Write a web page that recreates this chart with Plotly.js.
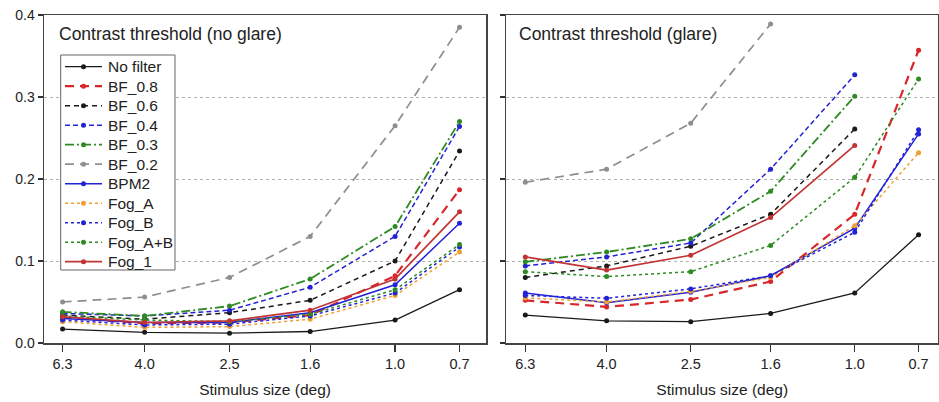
<!DOCTYPE html>
<html>
<head>
<meta charset="utf-8">
<script src="https://cdn.plot.ly/plotly-3.0.1.min.js"></script>
<style>
html,body{margin:0;padding:0;background:#fff;}
#chart{width:939px;height:402px;}
</style>
</head>
<body>
<div id="chart"></div>
<script>
// ---- data ----
const sizes = [6.3, 4.0, 2.5, 1.6, 1.0, 0.7];
const sizeLabels = ['6.3', '4.0', '2.5', '1.6', '1.0', '0.7'];
const seriesNames = ['No filter', 'BF_0.8', 'BF_0.6', 'BF_0.4', 'BF_0.3', 'BF_0.2', 'BPM2', 'Fog_A', 'Fog_B', 'Fog_A+B', 'Fog_1'];

// Contrast threshold (no glare)
const noFilterL = [0.017, 0.013, 0.012, 0.014, 0.028, 0.065];
const bf08L     = [0.031, 0.024, 0.025, 0.034, 0.082, 0.187];
const bf06L     = [0.034, 0.029, 0.037, 0.052, 0.100, 0.234];
const bf04L     = [0.036, 0.033, 0.040, 0.068, 0.130, 0.264];
const bf03L     = [0.038, 0.033, 0.045, 0.078, 0.142, 0.270];
const bf02L     = [0.050, 0.056, 0.080, 0.130, 0.265, 0.385];
const bpm2L     = [0.030, 0.025, 0.025, 0.037, 0.071, 0.146];
const fogAL     = [0.026, 0.019, 0.020, 0.029, 0.058, 0.111];
const fogBL     = [0.028, 0.022, 0.023, 0.033, 0.061, 0.117];
const fogABL    = [0.033, 0.028, 0.026, 0.035, 0.065, 0.120];
const fog1L     = [0.032, 0.025, 0.027, 0.040, 0.078, 0.160];

// Contrast threshold (glare)
const noFilterR = [0.034, 0.027, 0.026, 0.036, 0.061, 0.132];
const bf08R     = [0.052, 0.044, 0.053, 0.075, 0.157, 0.357];
const bf06R     = [0.080, 0.094, 0.118, 0.157, 0.261, null];
const bf04R     = [0.094, 0.105, 0.122, 0.212, 0.327, null];
const bf03R     = [0.099, 0.111, 0.127, 0.185, 0.301, null];
const bf02R     = [0.196, 0.212, 0.268, 0.389, null, null];
const bpm2R     = [0.061, 0.049, 0.062, 0.082, 0.140, 0.255];
const fogAR     = [0.055, 0.050, 0.063, 0.080, 0.143, 0.232];
const fogBR     = [0.058, 0.0545, 0.066, 0.082, 0.135, 0.260];
const fogABR    = [0.087, 0.081, 0.087, 0.119, 0.202, 0.322];
const fog1R     = [0.105, 0.089, 0.107, 0.153, 0.241, null];

const leftSeries  = [noFilterL, bf08L, bf06L, bf04L, bf03L, bf02L, bpm2L, fogAL, fogBL, fogABL, fog1L];
const rightSeries = [noFilterR, bf08R, bf06R, bf04R, bf03R, bf02R, bpm2R, fogAR, fogBR, fogABR, fog1R];

// ---- styles ----
const styles = [
  {color: '#1a1a1a', dash: 'solid',            width: 1.3},
  {color: '#d9262b', dash: '9px,6px',          width: 2.2},
  {color: '#1a1a1a', dash: '5px,4px',          width: 1.5},
  {color: '#2323d6', dash: '5px,3px',          width: 1.5},
  {color: '#2f8a24', dash: '9px,3px,2px,3px',  width: 1.8},
  {color: '#8e8e8e', dash: '9px,6px',          width: 1.7},
  {color: '#2323d6', dash: 'solid',            width: 1.5},
  {color: '#f0a030', dash: 'dot',              width: 1.5},
  {color: '#2323d6', dash: 'dot',              width: 1.5},
  {color: '#2f8a24', dash: 'dot',              width: 1.5},
  {color: '#c23434', dash: 'solid',            width: 1.7}
];

const traces = [];
seriesNames.forEach((name, i) => {
  const st = styles[i];
  traces.push({
    x: sizes, y: leftSeries[i], name: name, type: 'scatter', mode: 'lines+markers',
    xaxis: 'x', yaxis: 'y', showlegend: false,
    line: {color: st.color, dash: st.dash, width: st.width},
    marker: {color: st.color, size: 5}
  });
});
seriesNames.forEach((name, i) => {
  const st = styles[i];
  traces.push({
    x: sizes, y: rightSeries[i], name: name, type: 'scatter', mode: 'lines+markers',
    xaxis: 'x2', yaxis: 'y2', showlegend: false, connectgaps: false,
    line: {color: st.color, dash: st.dash, width: st.width},
    marker: {color: st.color, size: 5}
  });
});

// ---- layout geometry ----
const W = 939, H = 402;
const M = {l: 44, r: 1, t: 15, b: 59};
const leftDomain = [0, 0.4946];
const plotW = (W - M.l - M.r) * (leftDomain[1] - leftDomain[0]);
const plotH = H - M.t - M.b;
const fx = px => (px - M.l) / plotW;          // pixel -> left x domain fraction
const fy = py => (H - M.b - py) / plotH;      // pixel -> left y domain fraction

const family = 'Liberation Sans, Arial, sans-serif';
const xCommon = {
  type: 'log', tickmode: 'array', tickvals: sizes, ticktext: sizeLabels,
  ticks: 'outside', ticklen: 7, tickwidth: 1.3, tickcolor: '#333',
  showline: true, linecolor: '#444', linewidth: 1.5, mirror: true,
  showgrid: false, zeroline: false,
  tickfont: {size: 14.5, family: family, color: '#222'},
  title: {text: 'Stimulus size (deg)', font: {size: 15.5, family: family, color: '#222'}, standoff: 13}
};
const yCommon = {
  range: [0, 0.4], tickvals: [0, 0.1, 0.2, 0.3, 0.4], tickformat: '.1f',
  ticks: 'outside', ticklen: 5, tickwidth: 1.3, tickcolor: '#333',
  showline: true, linecolor: '#444', linewidth: 1.5, mirror: true,
  showgrid: true, gridcolor: '#b0b0b0', gridwidth: 1, griddash: 'dot',
  zeroline: false,
  tickfont: {size: 14, family: family, color: '#222'}
};

// ---- legend (drawn with shapes + annotations) ----
const legBox = {x0: 60.7, x1: 175, y0: 55, y1: 270};
const legFirstY = 66.7, legStep = 19.5;
const legLineX0 = 65, legLineX1 = 102, legTextX = 106;
const shapes = [{
  type: 'rect', xref: 'x domain', yref: 'y domain',
  x0: fx(legBox.x0), x1: fx(legBox.x1), y0: fy(legBox.y1), y1: fy(legBox.y0),
  line: {color: '#666', width: 1}, fillcolor: '#fff', layer: 'above'
}];
const annotations = [];
seriesNames.forEach((name, i) => {
  const st = styles[i];
  const py = legFirstY + i * legStep;
  shapes.push({
    type: 'line', xref: 'x domain', yref: 'y domain',
    x0: fx(legLineX0), x1: fx(legLineX1), y0: fy(py), y1: fy(py),
    line: {color: st.color, dash: st.dash, width: st.width}, layer: 'above'
  });
  shapes.push({
    type: 'circle', xref: 'x domain', yref: 'y domain',
    xsizemode: 'pixel', ysizemode: 'pixel',
    xanchor: fx((legLineX0 + legLineX1) / 2), yanchor: fy(py),
    x0: -2.5, x1: 2.5, y0: -2.5, y1: 2.5,
    line: {color: st.color, width: 0}, fillcolor: st.color, layer: 'above'
  });
  annotations.push({
    xref: 'x domain', yref: 'y domain', x: fx(legTextX), y: fy(py),
    xanchor: 'left', yanchor: 'middle', showarrow: false, text: name,
    font: {size: 15.5, family: family, color: '#222'}
  });
});
annotations.push(
  {xref: 'x domain', yref: 'y domain', x: 0.03, y: 0.98, xanchor: 'left', yanchor: 'top',
   text: 'Contrast threshold (no glare)', showarrow: false, font: {size: 17.5, family: family, color: '#222'}},
  {xref: 'x2 domain', yref: 'y2 domain', x: 0.025, y: 0.98, xanchor: 'left', yanchor: 'top',
   text: 'Contrast threshold (glare)', showarrow: false, font: {size: 17.5, family: family, color: '#222'}}
);

const layout = {
  width: W, height: H,
  margin: M,
  paper_bgcolor: '#fff', plot_bgcolor: '#fff',
  font: {family: family, color: '#222'},
  showlegend: false,
  xaxis: Object.assign({}, xCommon, {domain: leftDomain, range: [0.844, -0.219], anchor: 'y'}),
  yaxis: Object.assign({}, yCommon, {anchor: 'x'}),
  xaxis2: Object.assign({}, xCommon, {domain: [0.5173, 1], range: [0.845, -0.202], anchor: 'y2'}),
  yaxis2: Object.assign({}, yCommon, {anchor: 'x2', showticklabels: false}),
  shapes: shapes,
  annotations: annotations
};

Plotly.newPlot('chart', traces, layout, {staticPlot: true, displayModeBar: false});
</script>
</body>
</html>
